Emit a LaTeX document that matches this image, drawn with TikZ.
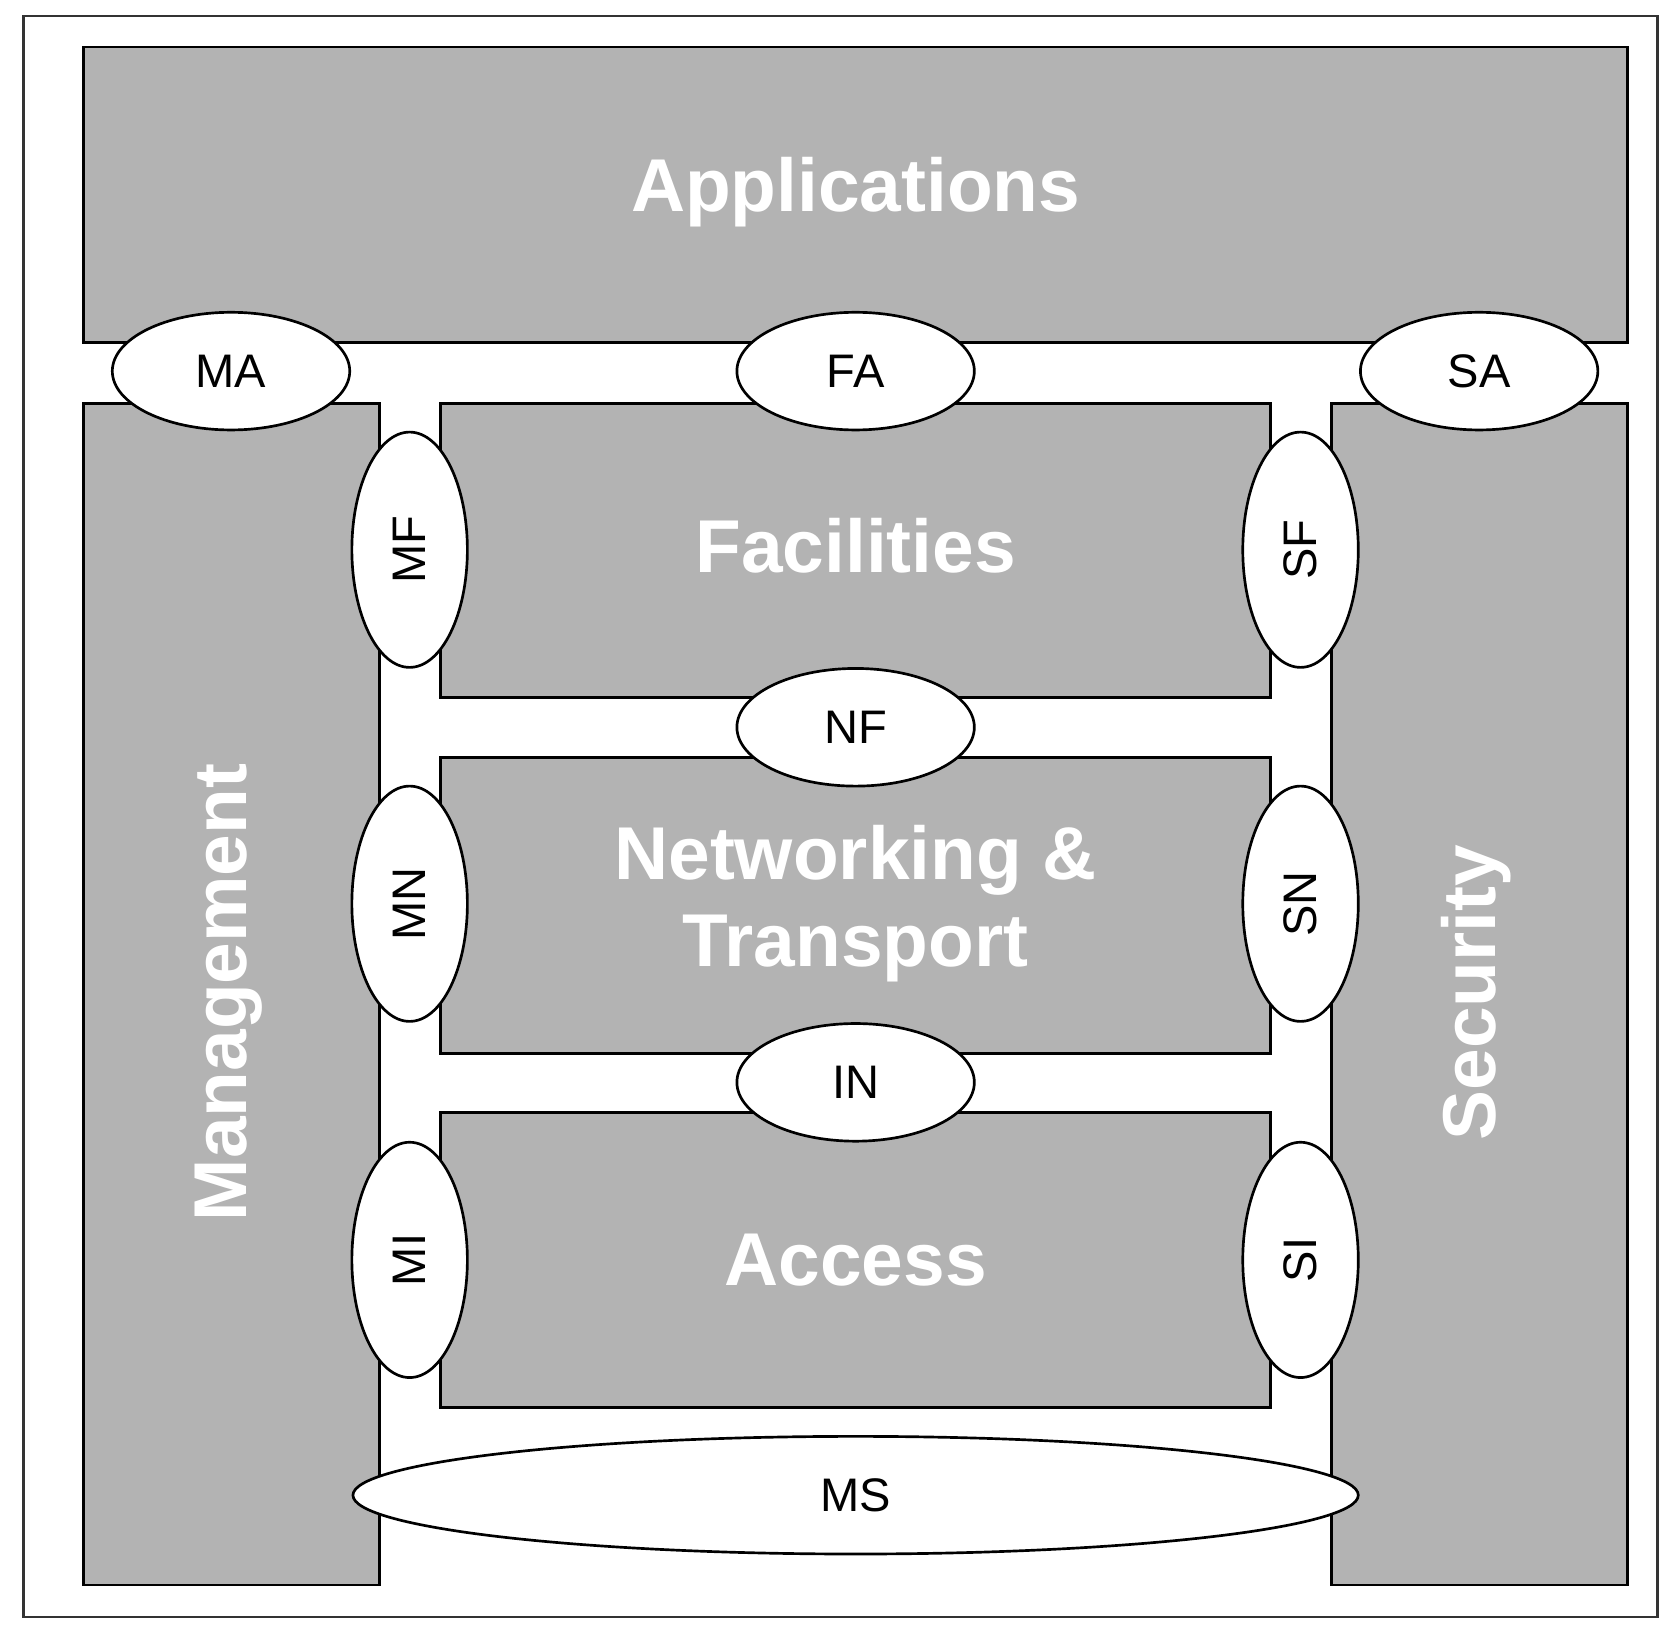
\documentclass[tikz,border=0pt]{standalone}
\usepackage{fontspec}
\setmainfont{Liberation Sans}
\usetikzlibrary{shapes.geometric}
\definecolor{boxgray}{HTML}{B3B3B3}
\begin{document}
\begin{tikzpicture}[x=1pt,y=-1pt,
  box/.style={draw=black,line width=2.5pt,fill=boxgray},
  big/.style={text=white,font=\bfseries\fontsize{70}{80}\selectfont},
  ell/.style={ellipse,draw=black,line width=2.5pt,fill=white,inner sep=0pt,font=\fontsize{44}{48}\selectfont}]
\useasboundingbox (0,0) rectangle (1568,1536);
\draw[line width=2.5pt,draw=black!80] (22,15) rectangle (1550,1512);
\draw[box] (78,44) rectangle (1522,320);
\node[big] (app) at (800,180) {Applications};
\draw[box] (78,377) rectangle (355,1482);
\node[big,rotate=90] (man) at (214,928) {Management};
\draw[box] (1245,377) rectangle (1522,1482);
\node[big,rotate=90] (sec) at (1380,928) {Security};
\draw[box] (412,377) rectangle (1188,652);
\node[big] (fac) at (800,510) {Facilities};
\draw[box] (412,708) rectangle (1188,985);
\node[big,align=center,font=\bfseries\fontsize{70}{82}\selectfont] (net) at (800,845) {Networking \&\\Transport};
\draw[box] (412,1040) rectangle (1188,1316);
\node[big] (acc) at (800,1178) {Access};
\foreach \n/\x/\y in {MA/216/347,FA/800/347,SA/1383/347,NF/800/680,IN/800/1012}
  \node[ell,minimum width=222,minimum height=110] (\n) at (\x,\y) {\n};
\foreach \n/\x/\y in {MF/383/514,MN/383/845,MI/383/1178,SF/1216/514,SN/1216/845,SI/1216/1178}
  \node[ell,minimum width=108,minimum height=220] (\n) at (\x,\y) {\rotatebox{90}{\n}};
\node[ell,minimum width=940,minimum height=110] (MS) at (800,1398) {MS};
\end{tikzpicture}
\end{document}
